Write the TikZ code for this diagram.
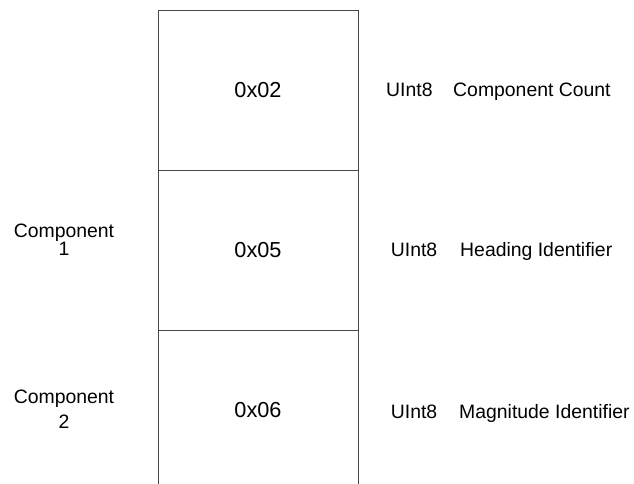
\documentclass[tikz,border=0pt]{standalone}
\usepackage{fontspec}
\setmainfont{Liberation Sans}
\begin{document}
\begin{tikzpicture}[x=1pt,y=-1pt,
  cell/.style={draw=black!72,line width=1pt,minimum width=200pt,minimum height=160pt,inner sep=0pt,
    font=\fontsize{21.7}{24}\selectfont},
  lbl/.style={inner sep=0pt,font=\fontsize{19.4}{22}\selectfont},
  side/.style={inner sep=0pt,align=center}]
\useasboundingbox (0,0) rectangle (634,484);
\node[cell,minimum height=159pt] (c1) at (258,90.5) {0x02};
\node[cell] (c2) at (258,250) {0x05};
\node[cell] (c3) at (258,410) {0x06};
\node[lbl,anchor=base west] (t1) at (386,96.7) {UInt8};
\node[lbl,anchor=base west] (d1) at (453,96.7) {Component Count};
\node[lbl,anchor=base west] (t2) at (390.7,256.7) {UInt8};
\node[lbl,anchor=base west] (d2) at (460,256.7) {Heading Identifier};
\node[lbl,anchor=base west] (t3) at (390.7,418.3) {UInt8};
\node[lbl,anchor=base west] (d3) at (459,418.3) {Magnitude Identifier};
\node[side,font=\fontsize{19.4}{18}\selectfont] (k1) at (64,240) {Component\\1};
\node[side,font=\fontsize{19.4}{25}\selectfont] (k2) at (64,409.5) {Component\\2};
\end{tikzpicture}
\end{document}
